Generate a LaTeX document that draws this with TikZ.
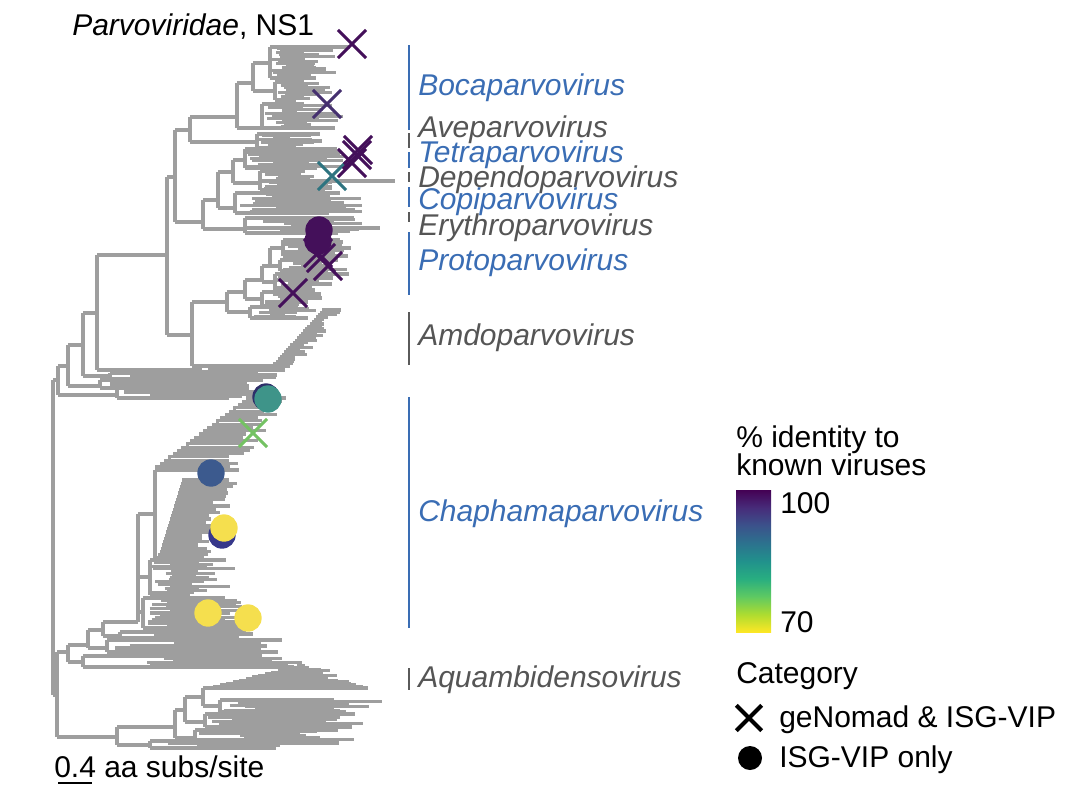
\documentclass[tikz,border=0pt]{standalone}
\usepackage{fontspec}
\setmainfont{Liberation Sans}
\usetikzlibrary{shapes.misc}
\definecolor{treegray}{HTML}{9E9E9E}
\definecolor{labblue}{HTML}{3A6DB4}
\definecolor{labgray}{HTML}{555555}
\definecolor{brgray}{HTML}{5A5A5A}
\definecolor{vA}{HTML}{440154}
\definecolor{vB}{HTML}{472C7A}
\definecolor{vC}{HTML}{3B528B}
\definecolor{vD}{HTML}{2C728E}
\definecolor{vE}{HTML}{21918C}
\definecolor{vF}{HTML}{28AE80}
\definecolor{vG}{HTML}{5EC962}
\definecolor{vH}{HTML}{ADDC30}
\definecolor{vI}{HTML}{FDE725}
\definecolor{mkpurple}{HTML}{44105A}
\definecolor{mkpurpleb}{HTML}{45306F}
\definecolor{mkteal}{HTML}{2E7480}
\definecolor{mktealb}{HTML}{3E9489}
\definecolor{mkgreen}{HTML}{74C263}
\definecolor{mkblue}{HTML}{3C5A8E}
\definecolor{mknavy}{HTML}{37388A}
\definecolor{mkyellow}{HTML}{F5DF4E}
\definecolor{mkedge}{HTML}{2E2F6A}
\pgfdeclareverticalshading{viridisbar}{100bp}{color(0bp)=(vI); color(25bp)=(vI); color(31.25bp)=(vH); color(37.5bp)=(vG); color(43.75bp)=(vF); color(50bp)=(vE); color(56.25bp)=(vD); color(62.5bp)=(vC); color(68.75bp)=(vB); color(75bp)=(vA); color(100bp)=(vA)}
\newcommand\figfont{\fontsize{22.5}{22}\selectfont}
% fan-shaped dense clade: x0 ya yb xla xra xlb xrb n
\newcommand\cladefan[8]{%
  \draw[treeline] (#1,#2) -- (#1,#3);
  \foreach \ci in {0,...,#8}{%
    \pgfmathsetmacro\cfT{\ci/#8}%
    \pgfmathsetmacro\cfY{#2+\cfT*(#3-#2)}%
    \pgfmathsetmacro\cfXl{#4+\cfT*(#6-#4)}%
    \pgfmathsetmacro\cfXr{#5+\cfT*(#7-#5)}%
    \pgfmathsetmacro\cfXs{#1+rnd*0.6*(\cfXl-#1)}%
    \pgfmathsetmacro\cfXe{\cfXl+rnd*(\cfXr-\cfXl)}%
    \ifnum\ci=0 \def\cfXs{#1}\fi
    \ifnum\ci=#8 \def\cfXs{#1}\fi
    \draw[treeline] (\cfXs,\cfY) -- (\cfXe,\cfY);
  }}
% ladder clade: xs ys (outer end) xe ye (root end) n xrs xre jitter
\newcommand\cladestair[8]{%
  \foreach \ci in {0,...,#5}{%
    \pgfmathsetmacro\cfT{\ci/#5}%
    \pgfmathsetmacro\cfX{#1+\cfT*(#3-#1)}%
    \pgfmathsetmacro\cfY{#2+\cfT*(#4-#2)}%
    \pgfmathsetmacro\cfXe{#6+\cfT*(#7-#6)-rnd*#8}%
    \pgfmathsetmacro\cfTn{(\ci+1)/#5}%
    \pgfmathsetmacro\cfXn{#1+\cfTn*(#3-#1)}%
    \pgfmathsetmacro\cfYn{#2+\cfTn*(#4-#2)}%
    \draw[treeline] (\cfX,\cfY) -- (\cfXe,\cfY);
    \ifnum\ci<#5 \draw[treeline] (\cfXn,\cfYn) |- (\cfX,\cfY);\fi
  }}
\begin{document}
\begin{tikzpicture}[x=0.75pt,y=-0.75pt,font=\figfont,
  treeline/.style={draw=treegray,line width=2.3pt},
  bracketblue/.style={draw=labblue,line width=2.2pt},
  bracketgray/.style={draw=brgray,line width=2.2pt},
  genusblue/.style={anchor=base west,text=labblue,font=\figfont\itshape,inner sep=0pt},
  genusgray/.style={anchor=base west,text=labgray,font=\figfont\itshape,inner sep=0pt},
  legtext/.style={anchor=base west,inner sep=0pt},
  xmark/.style={cross out,minimum size=18.75pt,inner sep=0pt,line width=2.3pt},
  dotmark/.style={circle,minimum size=20.5pt,inner sep=0pt}]
\useasboundingbox (0,0) rectangle (1071,797);
\pgfmathsetseed{7}
% ---------- backbone near root ----------
\draw[treeline] (53,380) -- (53,695);
\draw[treeline] (53,380) -- (58,380) (58,366) -- (58,395);
\draw[treeline] (58,395) -- (117,395);
\cladefan{117}{388}{398}{230}{280}{200}{250}{5}
\draw[treeline] (58,366) -- (68,366) (68,345) -- (68,386);
\draw[treeline] (68,386) -- (100,386);
\cladefan{100}{380}{388}{240}{285}{240}{280}{4}
\draw[treeline] (68,345) -- (83,345) (83,313) -- (83,376);
\draw[treeline] (83,376) -- (110,376);
\cladefan{110}{373}{379}{240}{290}{240}{285}{3}
\draw[treeline] (83,313) -- (97,313) (97,255) -- (97,370);
\draw[treeline] (97,370) -- (200,370);
\cladefan{200}{366}{372}{250}{297}{250}{290}{3}
% ---------- Parvovirinae ----------
\draw[treeline] (97,255) -- (167,255) (167,177) -- (167,335);
\draw[treeline] (167,335) -- (192,335) (192,302) -- (192,366);
% Amdoparvovirus
\draw[treeline] (192,366) -- (275,366);
\cladestair{326}{310}{275}{366}{24}{345}{300}{14}
% Protoparvovirus
\draw[treeline] (192,302) -- (227,302) (227,292) -- (227,312);
\draw[treeline] (227,312) -- (250,312);
\cladefan{250}{307}{318}{285}{322}{285}{315}{6}
\draw[treeline] (227,292) -- (245,292) (245,280) -- (245,299);
\draw[treeline] (245,299) -- (262,299);
\cladefan{262}{292}{306}{295}{330}{295}{325}{7}
\draw[treeline] (245,280) -- (262,280) (262,266) -- (262,282);
\draw[treeline] (262,282) -- (275,282);
\cladefan{275}{274}{290}{310}{363}{305}{335}{8}
\draw[treeline] (262,266) -- (270,266) (270,248) -- (270,266);
\draw[treeline] (270,266) -- (280,266);
\cladefan{280}{260}{271}{320}{355}{320}{350}{6}
\draw[treeline] (270,248) -- (283,248);
\cladefan{283}{240}{256}{320}{360}{320}{355}{8}
% Boca / Ave
\draw[treeline] (167,177) -- (175,177) (175,130) -- (175,222);
\draw[treeline] (175,130) -- (190,130) (190,117) -- (190,142);
\draw[treeline] (190,117) -- (237,117) (237,83) -- (237,128);
\draw[treeline] (237,83) -- (253,83) (253,63) -- (253,91);
\draw[treeline] (253,63) -- (270,63);
\cladefan{270}{47}{78}{300}{356}{300}{335}{17}
\draw[treeline] (253,91) -- (275,91);
\cladefan{275}{82}{100}{300}{345}{295}{335}{10}
\draw[treeline] (237,128) -- (262,128);
\cladefan{262}{104}{128}{295}{340}{300}{347}{13}
\draw[treeline] (190,142) -- (257,142);
\cladefan{257}{134}{148}{285}{328}{285}{325}{8}
% Tetra / Dependo / Copi / Erythro
\draw[treeline] (175,222) -- (203,222) (203,200) -- (203,229);
\draw[treeline] (203,229) -- (245,229);
\cladefan{245}{218}{233}{330}{365}{330}{360}{8}
\draw[treeline] (245,228) -- (380,228);
\draw[treeline] (203,200) -- (218,200) (218,172) -- (218,208);
\draw[treeline] (218,208) -- (235,208);
\cladefan{235}{193}{213}{310}{383}{320}{365}{11}
\draw[treeline] (218,172) -- (233,172) (233,160) -- (233,183);
\draw[treeline] (233,160) -- (245,160);
\cladefan{245}{149}{168}{300}{345}{310}{350}{10}
\draw[treeline] (233,183) -- (260,183);
\cladefan{260}{171}{190}{290}{335}{300}{345}{10}
\draw[treeline] (260,181) -- (395,181);
% ---------- Chaphamaparvovirus ----------
\draw[treeline] (53,695) -- (57,695) (57,652) -- (57,737);
\draw[treeline] (57,652) -- (68,652) (68,645) -- (68,662);
\draw[treeline] (68,662) -- (83,662);
\cladefan{83}{656}{667}{240}{320}{240}{315}{5}
\draw[treeline] (68,645) -- (88,645) (88,630) -- (88,648);
\draw[treeline] (88,648) -- (107,648);
\cladefan{107}{640}{652}{230}{300}{230}{300}{6}
\draw[treeline] (88,630) -- (103,630) (103,622) -- (103,636);
\draw[treeline] (103,636) -- (120,636);
\cladefan{120}{632}{638}{220}{270}{220}{265}{3}
\draw[treeline] (103,622) -- (138,622) (138,514) -- (138,622);
\draw[treeline] (138,577) -- (150,577);
\cladefan{150}{560}{595}{195}{242}{185}{228}{16}
\draw[treeline] (138,612) -- (143,612);
\cladefan{143}{598}{628}{215}{278}{215}{268}{14}
\draw[treeline] (138,514) -- (155,514) (155,470) -- (155,558);
\draw[treeline] (155,470) -- (157,470) (155,558) -- (160,558);
\cladestair{252}{398}{157}{470}{22}{290}{242}{22}
\cladestair{185}{480}{160}{558}{24}{243}{215}{25}
% ---------- Aquambidensovirus ----------
\draw[treeline] (57,737) -- (117,737) (117,727) -- (117,745);
\draw[treeline] (117,745) -- (150,745);
\cladefan{150}{741}{748}{250}{290}{250}{285}{3}
\draw[treeline] (117,727) -- (175,727) (175,710) -- (175,738);
\draw[treeline] (175,738) -- (195,738);
\cladefan{195}{730}{743}{300}{373}{300}{350}{7}
\draw[treeline] (175,710) -- (185,710) (185,697) -- (185,722);
\draw[treeline] (185,722) -- (205,722);
\cladefan{205}{714}{727}{300}{370}{300}{365}{7}
\draw[treeline] (185,697) -- (203,697) (203,688) -- (203,706);
\draw[treeline] (203,706) -- (220,706);
\cladefan{220}{700}{712}{330}{397}{320}{370}{7}
\draw[treeline] (203,688) -- (215,688);
\cladestair{305}{666}{215}{688}{14}{318}{375}{30}
% ---------- markers ----------
\node[xmark,draw=mkpurple] (x1) at (352,44) {};
\node[xmark,draw=mkpurpleb] (x2) at (327,104) {};
\node[xmark,draw=mkteal] (x3) at (332,176) {};
\node[xmark,draw=mkpurple] (x4) at (358,150) {};
\node[xmark,draw=mkpurple] (x5) at (357,155) {};
\node[xmark,draw=mkpurple] (x6) at (352,163) {};
\node[dotmark,fill=mkpurple] (c1) at (319,230) {};
\node[dotmark,fill=mkpurple] (c2) at (318,241) {};
\node[xmark,draw=mkpurple] (x7) at (318,253) {};
\node[xmark,draw=mkpurple] (x8) at (321,258) {};
\node[xmark,draw=mkpurple] (x9) at (328,266) {};
\node[xmark,draw=mkpurple] (x10) at (293,293) {};
\node[dotmark,fill=mkedge] (c3b) at (266,397) {};
\node[dotmark,fill=mktealb] (c3) at (268,399) {};
\node[xmark,draw=mkgreen] (x11) at (253,433) {};
\node[dotmark,fill=mkblue] (c4) at (211,473) {};
\node[dotmark,fill=mknavy] (c5) at (222,535) {};
\node[dotmark,fill=mkyellow] (c6) at (224,528) {};
\node[dotmark,fill=mkyellow] (c7) at (208,613) {};
\node[dotmark,fill=mkyellow] (c8) at (248,618) {};
% ---------- clade brackets and labels ----------
\draw[bracketblue] (409,45) -- (409,130);
\draw[bracketgray] (409,133) -- (409,148);
\draw[bracketblue] (409,152) -- (409,168);
\draw[bracketgray] (409,172) -- (409,182);
\draw[bracketblue] (409,187) -- (409,207);
\draw[bracketgray] (409,212) -- (409,222);
\draw[bracketblue] (409,232) -- (409,295);
\draw[bracketgray] (409,312) -- (409,365);
\draw[bracketblue] (409,397) -- (409,628);
\draw[bracketgray] (409,668) -- (409,690);
\node[genusblue] (boca) at (418,95) {Bocaparvovirus};
\node[genusgray] (ave) at (418,137) {Aveparvovirus};
\node[genusblue] (tetra) at (418,162) {Tetraparvovirus};
\node[genusgray] (dep) at (418,187) {Dependoparvovirus};
\node[genusblue] (copi) at (418,209) {Copiparvovirus};
\node[genusgray] (ery) at (418,235) {Erythroparvovirus};
\node[genusblue] (proto) at (418,270) {Protoparvovirus};
\node[genusgray] (amdo) at (418,345) {Amdoparvovirus};
\node[genusblue] (chap) at (418,521) {Chaphamaparvovirus};
\node[genusgray] (aqua) at (418,687) {Aquambidensovirus};
% ---------- title and scale ----------
\node[legtext] (title) at (72,35) {\textit{Parvoviridae}, NS1};
\node[legtext] (scale) at (54,777) {0.4 aa subs/site};
\draw[line width=2pt] (58,783) -- (92,783);
% ---------- legend ----------
\node[legtext] (lt1) at (736,447) {\% identity to};
\node[legtext] (lt2) at (736,475) {known viruses};
\shade[shading=viridisbar] (736,490) rectangle (771,632);
\node[legtext] (l100) at (780,513) {100};
\node[legtext] (l70) at (780,632) {70};
\node[legtext] (cat) at (736,683) {Category};
\node[cross out,draw=black,minimum size=16pt,inner sep=0pt,line width=3pt] (lx) at (749,718) {};
\node[legtext] (lxt) at (779,727) {geNomad \& ISG-VIP};
\node[circle,fill=black,minimum size=18pt,inner sep=0pt] (lc) at (750,758) {};
\node[legtext] (lct) at (779,767) {ISG-VIP only};
\end{tikzpicture}
\end{document}
